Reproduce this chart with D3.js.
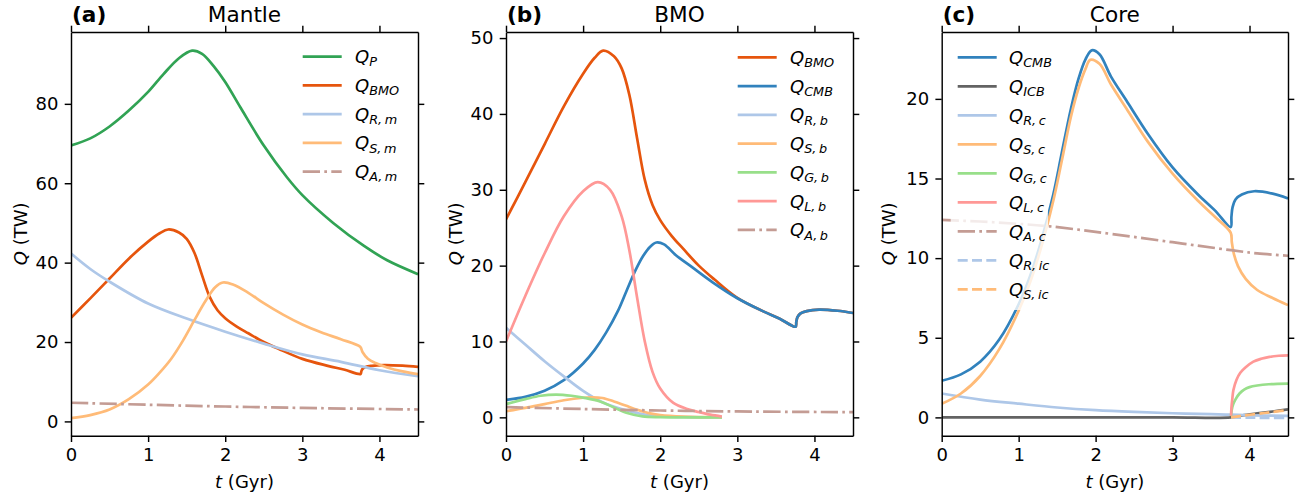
<!DOCTYPE html>
<html><head><meta charset="utf-8">
<script src="https://cdn.jsdelivr.net/npm/d3@7"></script>
<style>body{margin:0;background:#fff} svg{display:block} text{font-family:"DejaVu Sans",sans-serif;fill:#000}</style>
</head><body><svg id="chart" width="1295" height="497"></svg>
<script>
// ---------------- data ----------------
const xTicks = [0, 1, 2, 3, 4];
const yTicksA = [0, 20, 40, 60, 80];
const yTicksB = [0, 10, 20, 30, 40, 50];
const yTicksC = [0, 5, 10, 15, 20];

// (a) Mantle
const tQP = [0, 0.25, 0.5, 0.75, 1.0, 1.2, 1.4, 1.57, 1.7, 1.85, 2.0, 2.2, 2.5, 2.8, 3.0, 3.4, 3.8, 4.1, 4.5];
const QP  = [69.5, 71.3, 74.3, 78.3, 83.0, 87.5, 91.5, 93.4, 92.6, 89.5, 85.5, 79.0, 69.5, 61.5, 57.0, 50.0, 44.2, 40.6, 37.1];
const tQBMO = [0, 0.25, 0.5, 0.75, 1.0, 1.15, 1.26, 1.4, 1.5, 1.6, 1.7, 1.8, 1.9, 2.0, 2.15, 2.3, 2.5, 2.7, 3.0, 3.33, 3.55, 3.755, 3.765, 3.78, 3.82, 3.9, 4.06, 4.3, 4.5];
const QBMO  = [26.1, 31.0, 36.0, 41.0, 45.3, 47.4, 48.35, 47.6, 46.0, 42.5, 36.8, 31.3, 28.0, 26.0, 23.9, 22.2, 20.0, 18.2, 15.75, 14.0, 13.0, 11.95, 12.6, 13.2, 13.7, 14.0, 14.2, 14.05, 13.75];
const tQRm = [0, 0.25, 0.5, 1.0, 1.5, 2.0, 2.5, 3.0, 3.5, 4.0, 4.5];
const QRm  = [42.3, 38.4, 35.2, 29.7, 25.9, 22.6, 19.6, 16.9, 15.0, 12.9, 11.4];
const tQSm = [0, 0.25, 0.5, 0.75, 1.0, 1.15, 1.3, 1.45, 1.6, 1.75, 1.87, 1.97, 2.1, 2.3, 2.5, 2.75, 3.0, 3.25, 3.5, 3.75, 3.78, 3.85, 3.95, 4.1, 4.3, 4.5];
const QSm  = [0.8, 1.6, 3.0, 5.6, 9.3, 12.3, 15.8, 20.3, 25.5, 30.5, 33.8, 35.0, 34.5, 32.4, 29.8, 26.9, 24.4, 22.4, 20.7, 18.8, 17.5, 15.8, 14.7, 13.6, 12.6, 11.9];
const tQAm = [0, 1, 2, 3, 4.5];
const QAm  = [4.7, 4.2, 3.75, 3.4, 3.0];

// (b) BMO
const tQCMB = [0, 0.25, 0.5, 0.75, 1.0, 1.15, 1.3, 1.45, 1.56, 1.68, 1.78, 1.87, 1.95, 2.05, 2.2, 2.4, 2.68, 3.0, 3.33, 3.55, 3.755, 3.765, 3.78, 3.82, 3.9, 4.06, 4.3, 4.5];
const QCMB  = [2.3, 2.7, 3.5, 4.9, 7.1, 8.9, 11.2, 14.0, 16.6, 19.4, 21.3, 22.5, 23.05, 22.8, 21.4, 19.9, 17.8, 15.7, 14.0, 13.0, 11.95, 12.6, 13.2, 13.7, 14.0, 14.2, 14.05, 13.75];
const tQRb = [0, 0.25, 0.5, 0.75, 1.0, 1.25, 1.5, 1.75, 2.0, 2.4, 2.8];
const QRb  = [11.8, 9.6, 7.4, 5.4, 3.5, 2.0, 1.1, 0.45, 0.15, 0.03, 0.0];
const tQSb = [0, 0.25, 0.5, 0.75, 1.0, 1.1, 1.25, 1.4, 1.55, 1.7, 1.85, 2.0, 2.3, 2.8];
const QSb  = [0.8, 1.25, 1.75, 2.25, 2.58, 2.63, 2.55, 2.1, 1.55, 1.0, 0.55, 0.3, 0.1, 0.02];
const tQGb = [0, 0.25, 0.45, 0.65, 0.85, 1.0, 1.22, 1.4, 1.56, 1.77, 2.0, 2.4, 2.8];
const QGb  = [1.75, 2.4, 2.85, 3.0, 2.85, 2.6, 2.1, 1.3, 0.6, 0.13, 0.03, 0.0, 0.0];
const tQLb = [0, 0.25, 0.5, 0.75, 1.0, 1.19, 1.35, 1.5, 1.6, 1.7, 1.8, 1.9, 2.0, 2.17, 2.35, 2.5, 2.65, 2.8];
const QLb  = [10.0, 16.0, 21.6, 26.5, 29.8, 31.0, 30.0, 26.5, 22.0, 15.8, 10.0, 6.0, 3.8, 1.9, 1.1, 0.7, 0.35, 0.1];
const tQAb = [0, 1, 2, 3, 4.5];
const QAb  = [1.35, 1.1, 0.9, 0.78, 0.68];

// (c) Core
const tQICB = [0, 1, 2, 3, 3.76, 3.9, 4.1, 4.3, 4.5];
const QICB  = [0, 0, 0, 0, 0, 0.12, 0.25, 0.37, 0.5];
const tQRc = [0, 0.5, 1.0, 1.5, 2.0, 2.5, 3.0, 3.5, 3.76, 4.0, 4.5];
const QRc  = [1.5, 1.12, 0.86, 0.62, 0.45, 0.34, 0.26, 0.2, 0.17, 0.13, 0.1];
const tQSc = [0, 0.25, 0.5, 0.75, 1.0, 1.15, 1.3, 1.45, 1.56, 1.68, 1.78, 1.87, 1.93, 2.05, 2.2, 2.4, 2.68, 3.0, 3.33, 3.55, 3.755, 3.77, 3.8, 3.85, 3.95, 4.1, 4.3, 4.5];
const QSc  = [0.85, 1.5, 2.6, 4.3, 6.7, 8.5, 10.8, 13.6, 16.1, 18.9, 20.7, 21.9, 22.45, 22.2, 20.9, 19.4, 17.3, 15.3, 13.6, 12.6, 11.6, 11.0, 10.2, 9.5, 8.7, 8.0, 7.5, 7.05];
const tQGc = [3.76, 3.77, 3.79, 3.82, 3.87, 3.93, 4.0, 4.1, 4.25, 4.5];
const QGc  = [0.1, 0.5, 0.85, 1.15, 1.5, 1.75, 1.9, 2.0, 2.08, 2.12];
const tQLc = [3.76, 3.765, 3.775, 3.79, 3.83, 3.88, 3.95, 4.05, 4.15, 4.26, 4.38, 4.5];
const QLc  = [0.1, 0.6, 1.1, 1.7, 2.35, 2.8, 3.15, 3.5, 3.68, 3.8, 3.87, 3.9];
const tQAc = [0, 0.5, 1.0, 1.4, 2.0, 3.0, 3.76, 4.1, 4.5];
const QAc  = [12.4, 12.3, 12.15, 12.0, 11.65, 11.0, 10.5, 10.3, 10.15];
const tQRic = [3.76, 4.0, 4.25, 4.5];
const QRic  = [0.0, -0.02, -0.03, -0.03];
const tQSic = [3.76, 3.9, 4.1, 4.3, 4.5];
const QSic  = [0.0, 0.1, 0.22, 0.34, 0.46];

// ---------------- styles / layout ----------------
const C = {green:"#31a354", red:"#e6550d", blue:"#3182bd", grey:"#636363",
  lblue:"#aec7e8", lorange:"#ffbb78", lgreen:"#98df8a", pink:"#ff9896", brown:"#c49c94"};
const DASHDOT = "17.3,4.3,2.7,4.3", DASHED = "10,4.3";
const zip = (t, v) => t.map((d, i) => [d, v[i]]);

const panels = [
  {left:71, right:418, dom:[-3.6, 98.1], yt:yTicksA, tag:"(a)", title:"Mantle", ylabX:20,
   leg:{x0:297, x1:410, y0:41, y1:185, lx:302.7, tx:355, y:56.7, dy:28.75},
   series:[
    {d:zip(tQP,QP), c:C.green, s:"P"},
    {d:zip(tQBMO,QBMO), c:C.red, s:"BMO"},
    {d:zip(tQRm,QRm), c:C.lblue, s:"R,\u2009m"},
    {d:zip(tQSm,QSm), c:C.lorange, s:"S,\u2009m"},
    {d:zip(tQAm,QAm), c:C.brown, s:"A,\u2009m", dash:DASHDOT}]},
  {left:506, right:853, dom:[-2.42, 50.8], yt:yTicksB, tag:"(b)", title:"BMO", ylabX:455,
   leg:{x0:730, x1:846, y0:41, y1:246, lx:737.7, tx:790, y:57.3, dy:28.75},
   series:[
    {d:zip(tQBMO,QBMO), c:C.red, s:"BMO"},
    {d:zip(tQCMB,QCMB), c:C.blue, s:"CMB"},
    {d:zip(tQRb,QRb), c:C.lblue, s:"R,\u2009b"},
    {d:zip(tQSb,QSb), c:C.lorange, s:"S,\u2009b"},
    {d:zip(tQGb,QGb), c:C.lgreen, s:"G,\u2009b"},
    {d:zip(tQLb,QLb), c:C.pink, s:"L,\u2009b"},
    {d:zip(tQAb,QAb), c:C.brown, s:"A,\u2009b", dash:DASHDOT}]},
  {left:941.7, right:1288, dom:[-1.15, 24.2], yt:yTicksC, tag:"(c)", title:"Core", ylabX:888,
   leg:{x0:950.7, x1:1048, y0:41, y1:310, lx:957.7, tx:1009, y:57.3, dy:29},
   series:[
    {d:zip(tQCMB,QCMB), c:C.blue, s:"CMB"},
    {d:zip(tQICB,QICB), c:C.grey, s:"ICB"},
    {d:zip(tQRc,QRc), c:C.lblue, s:"R,\u2009c"},
    {d:zip(tQSc,QSc), c:C.lorange, s:"S,\u2009c"},
    {d:zip(tQGc,QGc), c:C.lgreen, s:"G,\u2009c"},
    {d:zip(tQLc,QLc), c:C.pink, s:"L,\u2009c"},
    {d:zip(tQAc,QAc), c:C.brown, s:"A,\u2009c", dash:DASHDOT},
    {d:zip(tQRic,QRic), c:C.lblue, s:"R,\u2009ic", dash:DASHED},
    {d:zip(tQSic,QSic), c:C.lorange, s:"S,\u2009ic", dash:DASHED}]}
];

const TOP = 32, BOT = 435.7, LW = 2.7, FS = 18;
const svg = d3.select("#chart");

panels.forEach((p, pi) => {
  const x = d3.scaleLinear().domain([0, 4.5]).range([p.left, p.right]);
  const y = d3.scaleLinear().domain(p.dom).range([BOT, TOP]);
  const g = svg.append("g");
  const cid = "clip" + pi;
  g.append("clipPath").attr("id", cid).append("rect")
    .attr("x", p.left).attr("y", TOP).attr("width", p.right - p.left).attr("height", BOT - TOP);

  const line = d3.line().x(d => x(d[0])).y(d => y(d[1])).curve(d3.curveCatmullRom.alpha(0.5));
  const lines = g.append("g").attr("clip-path", `url(#${cid})`);
  p.series.forEach(s => {
    lines.append("path").attr("d", line(s.d)).attr("fill", "none")
      .attr("stroke", s.c).attr("stroke-width", LW)
      .attr("stroke-dasharray", s.dash || null).attr("stroke-linejoin", "round");
  });

  // axes
  const styleAxis = a => {
    a.selectAll("path").attr("stroke", "#000").attr("stroke-width", 1.44);
    a.selectAll("line").attr("stroke", "#000").attr("stroke-width", 1.44);
    a.selectAll("text").attr("font-size", FS).attr("font-family", "DejaVu Sans").attr("fill", "#000");
  };
  const ax = g.append("g").attr("transform", `translate(0,${BOT})`)
    .call(d3.axisBottom(x).tickValues(xTicks).tickSize(6.3).tickSizeOuter(0).tickPadding(6.3).tickFormat(d3.format("d")));
  styleAxis(ax);
  const axT = g.append("g").attr("transform", `translate(0,${TOP})`)
    .call(d3.axisTop(x).tickValues(xTicks).tickSize(6.3).tickSizeOuter(0).tickFormat(""));
  styleAxis(axT);
  const ayL = g.append("g").attr("transform", `translate(${p.left},0)`)
    .call(d3.axisLeft(y).tickValues(p.yt).tickSize(6.3).tickSizeOuter(0).tickPadding(6.3).tickFormat(d3.format("d")));
  styleAxis(ayL);
  const ayR = g.append("g").attr("transform", `translate(${p.right},0)`)
    .call(d3.axisRight(y).tickValues(p.yt).tickSize(6.3).tickSizeOuter(0).tickFormat(""));
  styleAxis(ayR);

  // titles
  g.append("text").attr("x", p.left + 1).attr("y", 21.7).attr("font-size", 21.6)
    .attr("font-weight", "bold").text(p.tag);
  g.append("text").attr("x", (p.left + p.right) / 2).attr("y", 21.7).attr("font-size", 21.6)
    .attr("text-anchor", "middle").text(p.title);

  // axis labels
  const xl = g.append("text").attr("x", (p.left + p.right) / 2).attr("y", 487.5)
    .attr("font-size", FS).attr("text-anchor", "middle");
  xl.append("tspan").attr("font-style", "italic").text("t");
  xl.append("tspan").text(" (Gyr)");
  const yl = g.append("text").attr("transform", `translate(${p.ylabX + 6.5},${(TOP + BOT) / 2}) rotate(-90)`)
    .attr("font-size", FS).attr("text-anchor", "middle");
  yl.append("tspan").attr("font-style", "italic").text("Q");
  yl.append("tspan").text(" (TW)");

  // legend
  const L = p.leg;
  const lg = g.append("g");
  lg.append("rect").attr("x", L.x0).attr("y", L.y0).attr("width", L.x1 - L.x0).attr("height", L.y1 - L.y0)
    .attr("rx", 3).attr("fill", "#fff").attr("fill-opacity", 0.8);
  p.series.forEach((s, i) => {
    const yy = L.y + i * L.dy;
    lg.append("line").attr("x1", L.lx).attr("x2", L.lx + 39).attr("y1", yy).attr("y2", yy)
      .attr("stroke", s.c).attr("stroke-width", LW).attr("stroke-dasharray", s.dash || null);
    const t = lg.append("text").attr("x", L.tx).attr("y", yy + 6.5).attr("font-size", FS);
    t.append("tspan").attr("font-style", "italic").text("Q");
    t.append("tspan").attr("font-style", "italic").attr("font-size", 12.8).attr("dy", 3.2).text(s.s);
  });
});
</script></body></html>
